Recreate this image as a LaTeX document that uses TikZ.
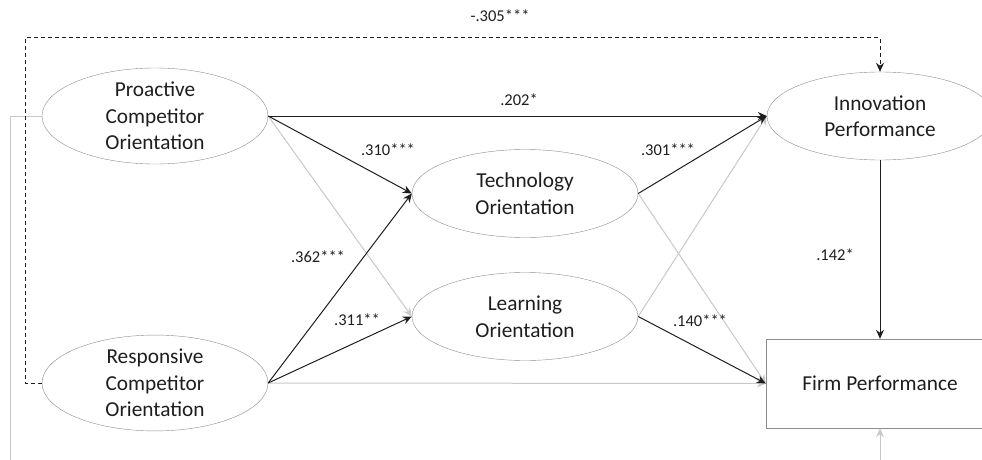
\documentclass[tikz,border=0pt]{standalone}
\usepackage{fontspec}
\setmainfont{Carlito}
\usetikzlibrary{shapes.geometric,arrows.meta,positioning}

\definecolor{inkdark}{HTML}{1E1E1E}
\definecolor{rimgray}{HTML}{8C8C8C}
\definecolor{paleline}{HTML}{C8C8C8}

\tikzset{
    construct/.style={draw=rimgray,ellipse,minimum width=226pt,minimum height=88pt,inner sep=0pt,align=center,text=inkdark,font=\fontsize{21.3}{26.5}\selectfont},
    outcome/.style={draw=rimgray,rectangle,minimum width=228pt,minimum height=89pt,inner sep=0pt,text=inkdark,font=\fontsize{21.3}{26.5}\selectfont},
    sigpath/.style={draw=inkdark,line width=1pt,-{Stealth[length=9pt,width=8pt,inset=3pt]}},
    nspath/.style={draw=paleline,line width=1pt,-{Stealth[length=9pt,width=8pt,inset=3pt]}},
    coef/.style={text=inkdark,font=\fontsize{16.5}{20}\selectfont}
}

\begin{document}
\begin{tikzpicture}[x=1pt,y=-1pt]
    \useasboundingbox (0,0) rectangle (982,460);
    \clip (0,0) rectangle (982,460);

    % constructs
    \node[construct] (proactive) at (155,116) {Proactive\\Competitor\\Orientation};
    \node[construct] (responsive) at (155,383) {Responsive\\Competitor\\Orientation};
    \node[construct] (techno) at (525,193.5) {Technology\\Orientation};
    \node[construct] (learning) at (525,316.5) {Learning\\Orientation};
    \node[construct] (innovation) at (880,116) {Innovation\\Performance};
    \node[outcome] (firm) at (880,383.5) {Firm Performance};

    \coordinate (dashcorner) at (25,38);
    \coordinate (loopcorner) at (10,490);

    % non-significant paths
    \draw[nspath] (proactive.east) -- (learning.west);
    \draw[nspath] (responsive.east) -- (firm.west);
    \draw[nspath] (techno.east) -- (firm.west);
    \draw[nspath] (learning.east) -- (innovation.west);
    \draw[nspath] (proactive.west) -| (loopcorner) -| (firm.south);

    % significant paths
    \draw[sigpath] (proactive.east) -- (innovation.west);
    \draw[sigpath] (proactive.east) -- (techno.west);
    \draw[sigpath] (responsive.east) -- (techno.west);
    \draw[sigpath] (responsive.east) -- (learning.west);
    \draw[sigpath] (techno.east) -- (innovation.west);
    \draw[sigpath] (learning.east) -- (firm.west);
    \draw[sigpath] (innovation.south) -- (firm.north);
    \draw[sigpath,dash pattern=on 4pt off 3pt] (responsive.west) -| (dashcorner) -| (innovation.north);

    % coefficients
    \node[coef] (c305) at (500,16) {-.305***};
    \node[coef] (c202) at (519,100) {.202*};
    \node[coef] (c310) at (388,150) {.310***};
    \node[coef] (c362) at (318,257) {.362***};
    \node[coef] (c311) at (357,320) {.311**};
    \node[coef] (c301) at (668,150) {.301***};
    \node[coef] (c140) at (700,321) {.140***};
    \node[coef] (c142) at (835,255) {.142*};
\end{tikzpicture}
\end{document}
